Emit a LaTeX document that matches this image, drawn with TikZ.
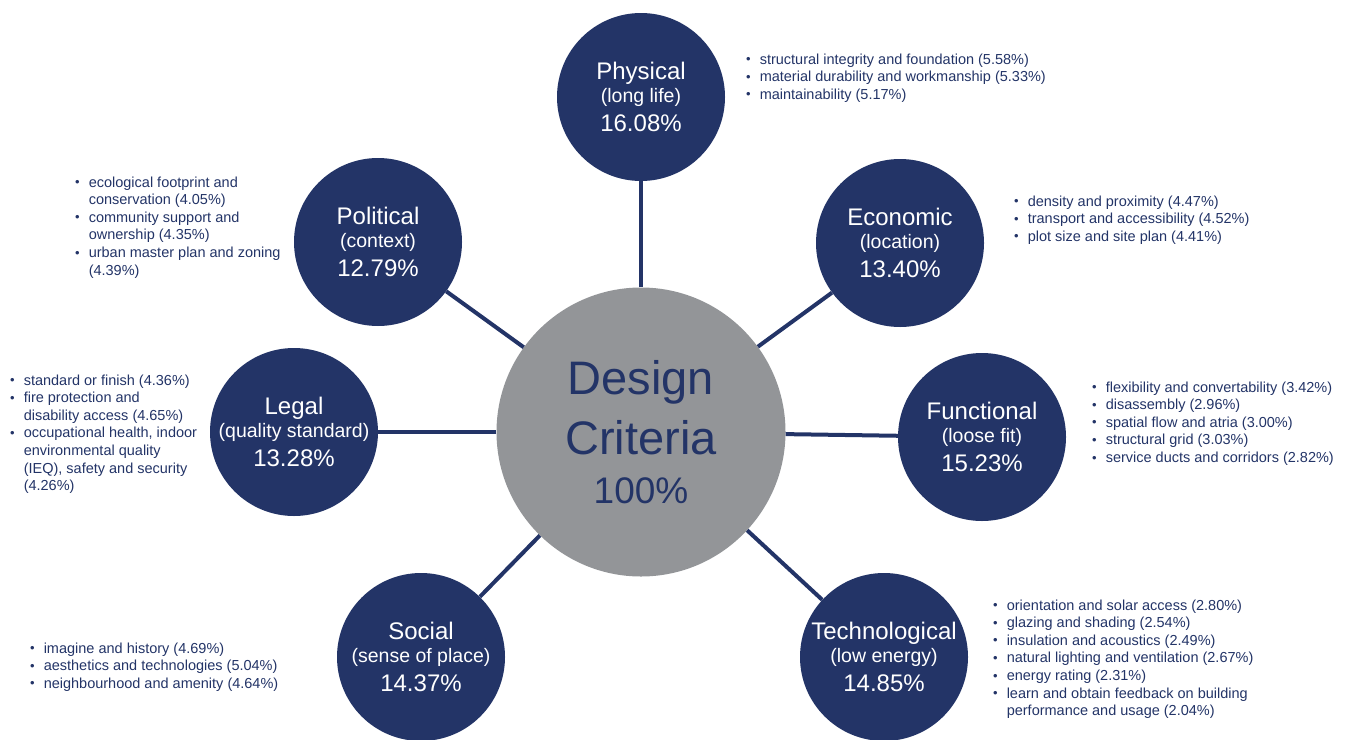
\documentclass[tikz,border=0pt]{standalone}
\usepackage{fontspec}
\setmainfont{Liberation Sans}
\definecolor{navy}{RGB}{35,52,103}
\definecolor{hubgray}{RGB}{147,149,152}
\tikzset{
    hub/.style={circle, fill=hubgray, minimum size=289pt, inner sep=0pt, text=navy, align=center, font=\fontsize{47}{60}\selectfont},
    crit/.style={circle, fill=navy, minimum size=168pt, inner sep=0pt, text=white, align=center, font=\fontsize{24}{24}\selectfont},
    spoke/.style={draw=navy, line width=4pt},
    bullets/.style={anchor=base west, inner sep=0pt, text=navy, font=\fontsize{14.5}{17.6}\selectfont}
}
% title, subtitle, share of a criterion
\newcommand{\critlabel}[3]{#1\\[-1pt]{\fontsize{19.5}{24}\selectfont #2}\\[5pt]#3}
\newcommand{\itemlist}[1]{\begin{tabular}[t]{@{}l@{\hspace{9pt}}l@{}}#1\end{tabular}}
\newcommand{\bul}{\raisebox{0.3pt}{\fontsize{13}{13}\selectfont\textbullet}}

\begin{document}
\begin{tikzpicture}[x=1pt, y=-1pt]
    \useasboundingbox (0,0) rectangle (1348,739);

    % Nodes
    \node[hub] (hub) at (641,432) {Design\\Criteria\\[-11pt]{\fontsize{37}{37}\selectfont 100\%}};
    \node[crit] (phys) at (641,97) {\critlabel{Physical}{(long life)}{16.08\%}};
    \node[crit] (econ) at (900,243) {\critlabel{Economic}{(location)}{13.40\%}};
    \node[crit] (func) at (982,437) {\critlabel{Functional}{(loose fit)}{15.23\%}};
    \node[crit] (tech) at (884,657) {\critlabel{Technological}{(low energy)}{14.85\%}};
    \node[crit] (soc) at (421,657) {\critlabel{Social}{(sense of place)}{14.37\%}};
    \node[crit] (legal) at (294,432) {\critlabel{Legal}{(quality standard)}{13.28\%}};
    \node[crit] (pol) at (378,242) {\critlabel{Political}{(context)}{12.79\%}};

    % Spokes
    \foreach \c in {phys,econ,func,tech,soc,legal,pol}
        \draw[spoke] (hub) -- (\c);

    % Sub-criteria
    \node[bullets] (phys-list) at (746,64) {\itemlist{
        \bul & structural integrity and foundation (5.58\%)\\
        \bul & material durability and workmanship (5.33\%)\\
        \bul & maintainability (5.17\%)}};
    \node[bullets] (econ-list) at (1014,206) {\itemlist{
        \bul & density and proximity (4.47\%)\\
        \bul & transport and accessibility (4.52\%)\\
        \bul & plot size and site plan (4.41\%)}};
    \node[bullets] (func-list) at (1092,392) {\itemlist{
        \bul & flexibility and convertability (3.42\%)\\
        \bul & disassembly (2.96\%)\\
        \bul & spatial flow and atria (3.00\%)\\
        \bul & structural grid (3.03\%)\\
        \bul & service ducts and corridors (2.82\%)}};
    \node[bullets] (tech-list) at (993,610) {\itemlist{
        \bul & orientation and solar access (2.80\%)\\
        \bul & glazing and shading (2.54\%)\\
        \bul & insulation and acoustics (2.49\%)\\
        \bul & natural lighting and ventilation (2.67\%)\\
        \bul & energy rating (2.31\%)\\
        \bul & learn and obtain feedback on building\\
             & performance and usage (2.04\%)}};
    \node[bullets] (soc-list) at (30,653) {\itemlist{
        \bul & imagine and history (4.69\%)\\
        \bul & aesthetics and technologies (5.04\%)\\
        \bul & neighbourhood and amenity (4.64\%)}};
    \node[bullets] (legal-list) at (10,385) {\itemlist{
        \bul & standard or finish (4.36\%)\\
        \bul & fire protection and\\
             & disability access (4.65\%)\\
        \bul & occupational health, indoor\\
             & environmental quality\\
             & (IEQ), safety and security\\
             & (4.26\%)}};
    \node[bullets] (pol-list) at (75,187) {\itemlist{
        \bul & ecological footprint and\\
             & conservation (4.05\%)\\
        \bul & community support and\\
             & ownership (4.35\%)\\
        \bul & urban master plan and zoning\\
             & (4.39\%)}};

\end{tikzpicture}
\end{document}
